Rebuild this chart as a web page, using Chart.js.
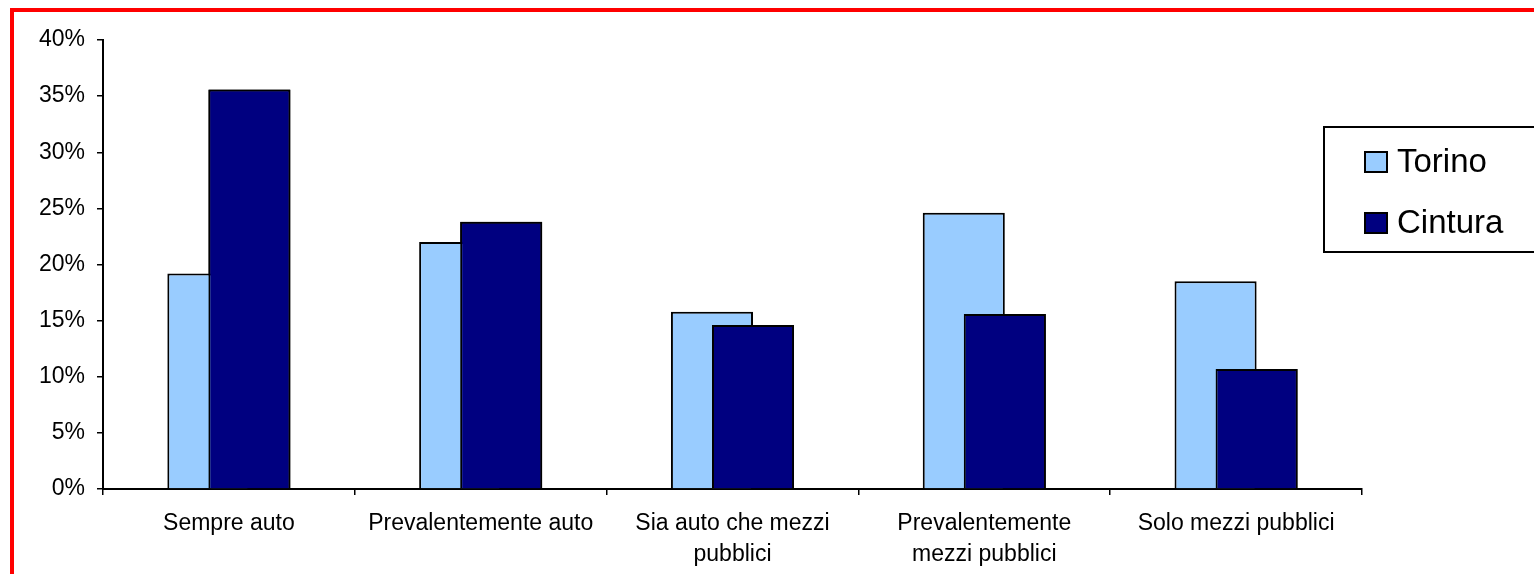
<!DOCTYPE html>
<html>
<head>
<meta charset="utf-8">
<script src="https://cdn.jsdelivr.net/npm/chart.js@4"></script>
<style>
    html, body { margin: 0; padding: 0; background: #fff; overflow: hidden; }
    #frame {
        position: absolute; left: 10px; top: 8px;
        width: 1600px; height: 700px;
        border: 4px solid #ff0000; box-sizing: border-box;
    }
    #wrap { position: absolute; left: 0; top: 0; width: 1534px; height: 574px; }
</style>
</head>
<body>
<div id="frame"></div>
<div id="wrap"><canvas id="chart"></canvas></div>
<script>
// Categories (multi-line ones split as in the picture)
const categories = [
    'Sempre auto',
    'Prevalentemente auto',
    ['Sia auto che mezzi', 'pubblici'],
    ['Prevalentemente', 'mezzi pubblici'],
    'Solo mezzi pubblici'
];

// Percent values
const torino = [19.2, 22.0, 15.8, 24.6, 18.5];
const cintura = [35.6, 23.8, 14.6, 15.6, 10.7];

const seriesNames = ['Torino', 'Cintura'];
const seriesColors = ['#99ccff', '#000080'];

const yMin = 0;
const yMax = 40;
const yStep = 5;

const fontFamily = "Arial, 'Liberation Sans', sans-serif";

// Excel-style overlap: draw the second series again on top of the first
const overlapOnTop = {
    id: 'overlapOnTop',
    afterDatasetsDraw(chart) {
        chart.getDatasetMeta(1).controller.draw();
    }
};

// Boxed legend sitting over the right edge of the plot
const boxedLegend = {
    id: 'boxedLegend',
    afterDraw(chart) {
        const ctx = chart.ctx;
        const left = chart.chartArea.right - 38;
        const top = 127;
        ctx.save();
        ctx.lineWidth = 2;
        ctx.strokeStyle = '#000';
        ctx.strokeRect(left, top, 400, 125);

        ctx.font = '33px ' + fontFamily;
        ctx.textBaseline = 'middle';
        ctx.textAlign = 'left';
        chart.data.datasets.forEach((ds, i) => {
            const cy = 162 + i * 61;
            ctx.fillStyle = ds.backgroundColor;
            ctx.fillRect(left + 41, cy - 10, 22, 20);
            ctx.lineWidth = 2;
            ctx.strokeRect(left + 41, cy - 10, 22, 20);
            ctx.fillStyle = '#000';
            ctx.fillText(ds.label, left + 73, cy + 1);
        });
        ctx.restore();
    }
};

const ctx = document.getElementById('chart').getContext('2d');

new Chart(ctx, {
    type: 'bar',
    data: {
        labels: categories,
        datasets: [
            {
                label: seriesNames[0],
                data: torino,
                backgroundColor: seriesColors[0],
                borderColor: '#000',
                borderWidth: 2,
                borderSkipped: 'start'
            },
            {
                label: seriesNames[1],
                data: cintura,
                backgroundColor: seriesColors[1],
                borderColor: '#000',
                borderWidth: 2,
                borderSkipped: 'start'
            }
        ]
    },
    options: {
        responsive: true,
        maintainAspectRatio: false,
        animation: false,
        categoryPercentage: 0.326,
        barPercentage: 2.0,
        layout: {
            padding: { left: 0, right: 172, top: 40, bottom: 0 }
        },
        plugins: {
            legend: { display: false },
            tooltip: { enabled: false }
        },
        scales: {
            x: {
                afterFit: function(scale) { scale.height = 85; },
                border: { color: '#000', width: 2 },
                grid: {
                    offset: true,
                    drawOnChartArea: false,
                    drawTicks: true,
                    tickLength: 6,
                    color: '#000',
                    lineWidth: 1.5
                },
                ticks: {
                    color: '#000',
                    padding: 13,
                    maxRotation: 0,
                    autoSkip: false,
                    font: { family: fontFamily, size: 23, lineHeight: 1.35 }
                }
            },
            y: {
                min: yMin,
                max: yMax,
                afterFit: function(scale) { scale.width = 103; },
                border: { color: '#000', width: 2 },
                grid: {
                    drawOnChartArea: false,
                    drawTicks: true,
                    tickLength: 6,
                    color: '#000',
                    lineWidth: 1.5
                },
                ticks: {
                    stepSize: yStep,
                    color: '#000',
                    padding: 12,
                    font: { family: fontFamily, size: 23 },
                    callback: function(value) {
                        return value + '%';
                    }
                }
            }
        }
    },
    plugins: [overlapOnTop, boxedLegend]
});
</script>
</body>
</html>
